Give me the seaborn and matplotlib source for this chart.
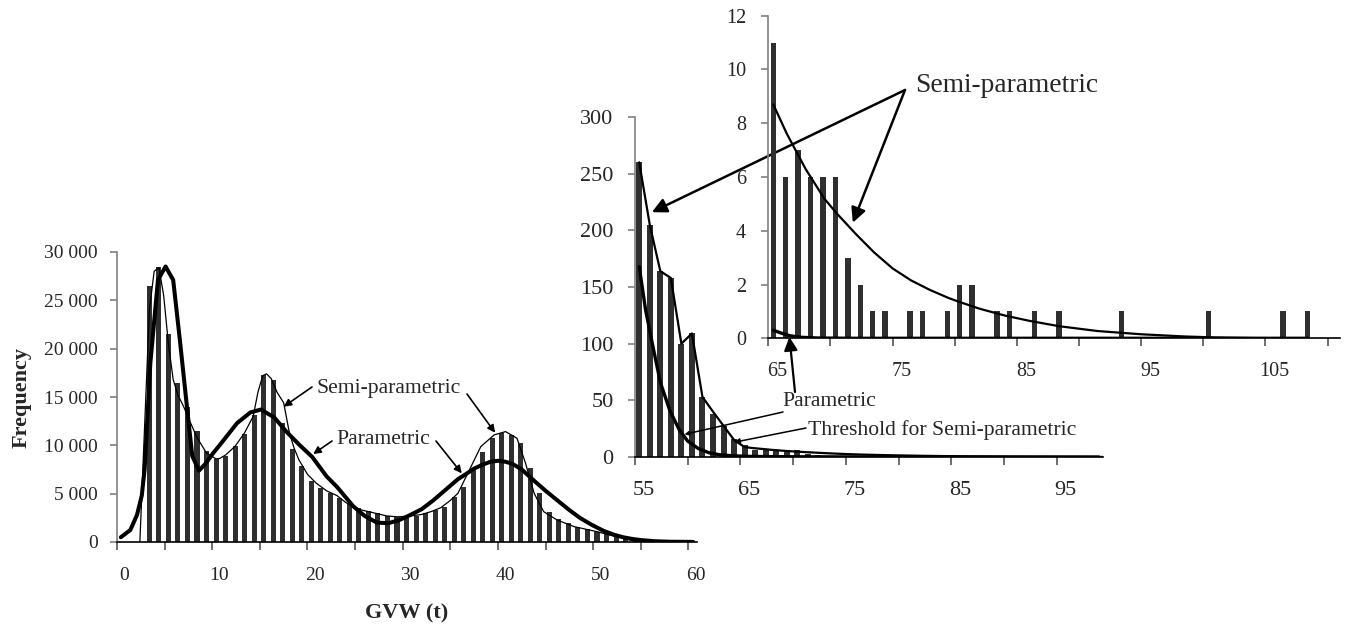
import numpy as np
import pandas as pd
import matplotlib
matplotlib.use("Agg")
import matplotlib.pyplot as plt
from matplotlib.transforms import ScaledTranslation
import seaborn as sns

# ---------------- data ----------------
# main histogram: GVW bins (t) and truck counts
main_bins = [3, 4, 5, 6, 7, 8, 9, 10, 11, 12, 13, 14, 15, 16, 17, 18, 19, 20, 21, 22,
             23, 24, 25, 26, 27, 28, 29, 30, 31, 32, 33, 34, 35, 36, 37, 38, 39, 40, 41, 42,
             43, 44, 45, 46, 47, 48, 49, 50, 51, 52, 53, 54]
main_counts = [26500, 28400, 21500, 16450, 14000, 11500, 9450, 8560, 8930, 9970,
               11200, 13100, 17300, 16800, 12300, 9650, 7900, 6350, 5560, 5100,
               4520, 4070, 3490, 3240, 2970, 2720, 2550, 2500, 2700, 2970,
               3310, 3650, 4690, 5720, 7630, 9350, 10730, 11250, 11080, 10220,
               7630, 5040, 3140, 2350, 1930, 1590, 1310, 1070, 830, 550, 380, 200]
upper_bins = [55, 56, 57, 58, 59, 60, 61, 62, 63, 64]
upper_counts = [260, 205, 164, 158, 100, 109, 53, 38, 27, 16]
tail_bins = [65, 66, 67, 68, 69, 70, 71, 72, 73, 74, 76, 77, 79, 80, 81, 83, 84, 86, 88,
             93, 100, 106, 108]
tail_counts = [11, 6, 7, 6, 6, 6, 3, 2, 1, 1, 1, 1, 1, 2, 2, 1, 1, 1, 1, 1, 1, 1, 1]

# fitted curves
semi_main_x = [2.4, 2.9, 3.4, 3.9, 4.4, 4.9, 5.4, 5.9, 6.4, 7.0, 7.6, 8.4, 9.4, 10.4, 10.8,
               11.4, 12.4, 13.4, 14.3, 14.8, 15.3, 15.7, 16.2, 16.8, 17.5, 18.1, 18.6, 19.1,
               20.0, 20.9, 22.0, 23.1, 24.0, 24.8, 25.7, 26.6, 28.3, 29.5, 30.8, 32.0, 33.0,
               34.0, 35.0, 35.8, 37.0, 38.2, 39.6, 40.8, 42.0, 42.9, 43.8, 44.8, 46.2, 48.0,
               50.4, 51.8, 53.2, 54.6, 55.5]
semi_main_y = [0, 12000, 24000, 28000, 28400, 25500, 20500, 16800, 15200, 14000, 12600,
               10800, 9200, 8600, 8650, 9000, 9900, 11300, 13000, 15500, 17200, 17400,
               16900, 15500, 14400, 11300, 9700, 8500, 7000, 6100, 5300, 4800, 4100, 3650,
               3300, 3100, 2700, 2600, 2690, 2850, 3150, 3550, 4300, 5040, 7450, 9870,
               11080, 11420, 10730, 8140, 5040, 3140, 2280, 1590, 1070, 700, 380, 30, 0]
param_main_x = [0.4, 1.4, 2.1, 2.6, 2.9, 3.5, 4.3, 5.1, 5.9, 6.6, 7.3, 7.9, 8.6, 9.3, 10.1,
                10.8, 12.6, 14.0, 15.1, 16.5, 17.8, 19.2, 20.5, 22.0, 23.1, 24.8, 26.0,
                27.3, 28.5, 29.6, 30.8, 32.0, 33.2, 34.5, 35.8, 36.6, 37.5, 38.4, 39.2,
                40.0, 40.8, 41.5, 42.5, 43.7, 45.0, 46.5, 47.5, 48.6, 49.8, 51.1, 52.2,
                53.2, 54.2, 55.2, 56.5, 58.0, 60.5]
param_main_y = [490, 1240, 2800, 4800, 7500, 18500, 27100, 28500, 27100, 20900, 14400,
                8900, 7380, 8100, 9200, 10040, 12290, 13400, 13700, 12900, 11400, 10000,
                8800, 6800, 5700, 3700, 2700, 2000, 1950, 2250, 2800, 3400, 4300, 5400,
                6500, 7000, 7600, 8000, 8300, 8400, 8300, 8100, 7500, 6420, 5300, 4100,
                3300, 2500, 1800, 1150, 750, 480, 300, 180, 80, 30, 10]
semi_upper_x = [55.4, 56.4, 57.4, 58.4, 59.4, 60.4, 61.4, 62.4, 63.4, 64.4]
semi_upper_y = [260, 205, 164, 158, 100, 109, 53, 40, 27.5, 15]
semi_tail_x = [65.4, 66.5, 68.0, 69.5, 70.5, 72.0, 73.5, 75.0, 76.5, 78.0, 79.5, 80.4,
               82.0, 84.0, 86.0, 88.4, 91.5, 95.0, 98.4, 101.0, 104.0, 108.4]
semi_tail_y = [8.7, 7.6, 6.3, 5.2, 4.65, 3.9, 3.2, 2.6, 2.15, 1.8, 1.5, 1.35, 1.1, 0.85,
               0.65, 0.45, 0.27, 0.15, 0.07, 0.03, 0.01, 0.0]
param_upper_x = [55.4, 56.0, 56.6, 57.4, 58.3, 59.2, 60.0, 61.0, 62.0, 63.0, 64.4, 66.0,
                 70.0, 75.0, 85.0, 99.0]
param_upper_y = [168, 130, 102, 66, 41, 24, 14, 7.5, 3.8, 2.0, 1.0, 0.5, 0.2, 0.1, 0, 0]
param_tail_x = [65.4, 66.0, 66.7, 67.5, 69.0, 72.0, 80.0, 90.0, 100.0, 108.4]
param_tail_y = [0.3, 0.2, 0.1, 0.04, 0.01, 0, 0, 0, 0, 0]

main_xticks = [0, 10, 20, 30, 40, 50, 60]
main_yticks = [0, 5000, 10000, 15000, 20000, 25000, 30000]
main_yticklabels = ["0", "5 000", "10 000", "15 000", "20 000", "25 000", "30 000"]
mid_xticks = [55, 65, 75, 85, 95]
mid_yticks = [0, 50, 100, 150, 200, 250, 300]
top_xticks = [65, 75, 85, 95, 105]
top_yticks = [0, 2, 4, 6, 8, 10, 12]

# ---------------- style ----------------
sns.set_theme(style="white")
plt.rcParams["font.family"] = ["Liberation Serif", "DejaVu Serif"]
plt.rcParams["axes.facecolor"] = "none"

W, H = 1349, 627
fig = plt.figure(figsize=(W / 100, H / 100), dpi=100)
fig.patch.set_facecolor("white")


def px_axes(l, r, t, b, z):
    ax = fig.add_axes([l / W, (H - b) / H, (r - l) / W, (b - t) / H])
    ax.set_zorder(z)
    ax.patch.set_alpha(0)
    return ax


ax_main = px_axes(117, 697, 252, 542, 1)
ax_mid = px_axes(635, 1103, 117, 457, 2)
ax_top = px_axes(768.3, 1340, 15.7, 338.3, 3)

BAR = "#2f2f2f"

# bars: each bar sits 0.4 t into its 1-t bin
df_main = pd.DataFrame({"x": np.array(main_bins + upper_bins[:6]) + 0.4,
                        "y": main_counts + upper_counts[:6]})
df_mid = pd.DataFrame({"x": np.array(upper_bins + tail_bins) + 0.4,
                       "y": upper_counts + tail_counts})
df_top = pd.DataFrame({"x": np.array(tail_bins) + 0.4, "y": tail_counts})

for ax, df, w in [(ax_main, df_main, 0.53), (ax_mid, df_mid, 0.57), (ax_top, df_top, 0.43)]:
    sns.barplot(data=df, x="x", y="y", native_scale=True, width=w, color=BAR,
                saturation=1, errorbar=None, linewidth=0, ax=ax)

# curves
sns.lineplot(x=semi_main_x, y=semi_main_y, color="black", lw=0.9, ax=ax_main)
sns.lineplot(x=param_main_x, y=param_main_y, color="black", lw=2.9, ax=ax_main)
sns.lineplot(x=semi_upper_x + semi_tail_x, y=semi_upper_y + semi_tail_y,
             color="black", lw=1.6, ax=ax_mid)
sns.lineplot(x=param_upper_x, y=param_upper_y, color="black", lw=2.4, ax=ax_mid)
sns.lineplot(x=semi_tail_x, y=semi_tail_y, color="black", lw=1.6, ax=ax_top)
sns.lineplot(x=param_tail_x, y=param_tail_y, color="black", lw=2.4, ax=ax_top)

# axes formatting
cfg = [
    (ax_main, (0, 60.9), (0, 30000), main_xticks, [5, 15, 25, 35, 45, 55], main_yticks,
     main_yticklabels, 14, 9, 12),
    (ax_mid, (55, 99.4), (0, 300), mid_xticks, [60, 70, 80, 90], mid_yticks,
     [str(v) for v in mid_yticks], 16, 10.5, 11),
    (ax_top, (65, 111), (0, 12), top_xticks, [70, 80, 90, 100, 110], top_yticks,
     [str(v) for v in top_yticks], 14.5, 11, 11),
]
for ax, xl, yl, xt, xminor, yt, ytl, fs, ypad, xpad in cfg:
    ax.set_xlim(*xl)
    ax.set_ylim(*yl)
    ax.set_xticks(xt)
    ax.set_xticklabels([str(v) for v in xt], fontsize=fs)
    ax.set_xticks(xminor, minor=True)
    ax.set_yticks(yt)
    ax.set_yticklabels(ytl, fontsize=fs)
    ax.set_xlabel("")
    ax.set_ylabel("")
    for s in ["top", "right"]:
        ax.spines[s].set_visible(False)
    ax.spines["left"].set_color("#808080")
    ax.spines["left"].set_linewidth(1.2)
    ax.spines["bottom"].set_color("black")
    ax.spines["bottom"].set_linewidth(1.2)
    ax.tick_params(axis="y", which="both", direction="out", length=5, width=1.2,
                   color="#808080", pad=ypad, left=True)
    ax.tick_params(axis="x", which="both", direction="out", length=6, width=1.2,
                   color="#555555", pad=xpad, bottom=True)
    ax.grid(False)

# axis titles
fig.text(22 / W, (H - 397) / H, "Frequency", rotation=90, fontsize=16,
         fontweight="bold", ha="center", va="center")
fig.text(407 / W, (H - 613) / H, "GVW (t)", fontsize=16, fontweight="bold",
         ha="center", va="center")

# annotation texts
def ftext(x, y, s, size):
    fig.text(x / W, (H - y) / H, s, fontsize=size, ha="left", va="center", zorder=10)


ftext(317, 389, "Semi-parametric", 15.6)
ftext(336, 440, "Parametric", 15.6)
ftext(782, 401, "Parametric", 15.6)
ftext(808, 430, "Threshold for Semi-parametric", 15.6)
ftext(915, 85, "Semi-parametric", 19.8)


def arrow(ax, head, tail_px, ms, lw):
    ax.annotate("", xy=head, xycoords="data",
                xytext=(tail_px[0], H - tail_px[1]), textcoords="figure pixels",
                annotation_clip=False,
                arrowprops=dict(arrowstyle="-|>", color="black", lw=lw,
                                mutation_scale=ms, shrinkA=0, shrinkB=0))


arrow(ax_main, (17.5, 14000), (312, 387), 11, 1.2)
arrow(ax_main, (39.7, 11300), (467, 394), 11, 1.2)
arrow(ax_main, (20.6, 9100), (332, 441), 11, 1.2)
arrow(ax_main, (36.2, 7100), (436, 441), 11, 1.2)
arrow(ax_mid, (59.7, 20), (783, 412), 6, 1.1)
arrow(ax_mid, (64.4, 13), (806, 428), 8, 1.1)
arrow(ax_top, (66.7, 0.05), (795, 392), 20, 1.6)
arrow(ax_top, (71.8, 4.3), (905, 90), 22, 1.8)
arrow(ax_mid, (56.6, 216), (905, 90), 22, 1.8)

# labels sit slightly right of their tick marks
for ax, dx in [(ax_main, 7), (ax_mid, 9), (ax_top, 9)]:
    off = ScaledTranslation(dx / 100, 0, fig.dpi_scale_trans)
    for lab in ax.get_xticklabels():
        lab.set_transform(lab.get_transform() + off)

fig.savefig("out.png", dpi=100, facecolor="white")
